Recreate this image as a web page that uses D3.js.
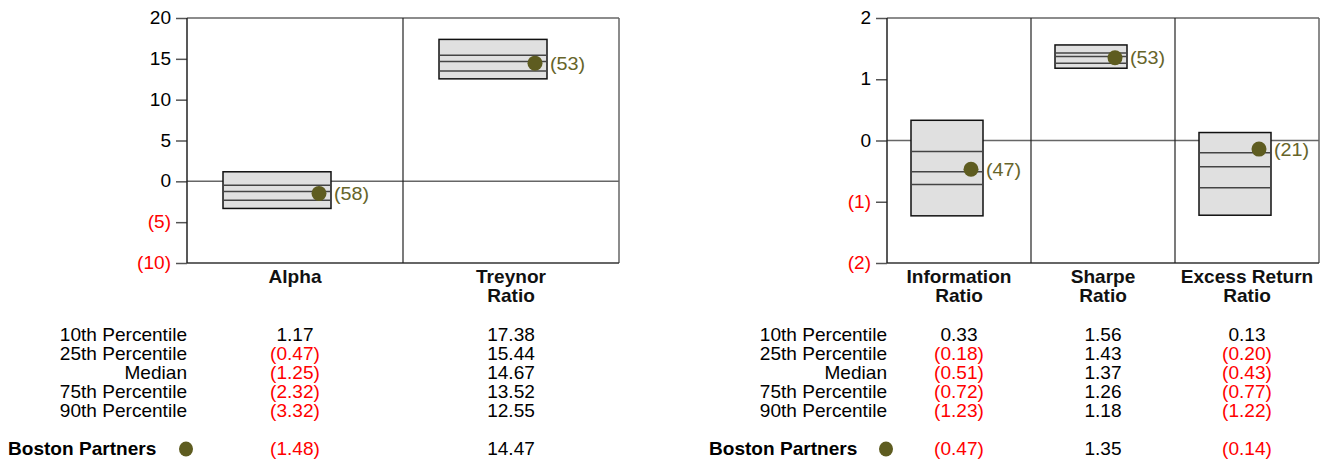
<!DOCTYPE html>
<html><head><meta charset="utf-8">
<script src="https://cdn.jsdelivr.net/npm/d3@7"></script>
<style>
body{margin:0;background:#fff;}
svg text{font-family:Arial,"Liberation Sans",sans-serif;}
</style></head>
<body><svg id="c" width="1323" height="459"></svg>
<script>
// ---- data ----
const leftCategories = [["Alpha"], ["Treynor", "Ratio"]];
const leftP10 = [1.17, 17.38];
const leftP25 = [-0.47, 15.44];
const leftMedian = [-1.25, 14.67];
const leftP75 = [-2.32, 13.52];
const leftP90 = [-3.32, 12.55];
const leftManager = [-1.48, 14.47];
const leftRank = [58, 53];
const leftTicks = [-10, -5, 0, 5, 10, 15, 20];

const rightCategories = [["Information", "Ratio"], ["Sharpe", "Ratio"], ["Excess Return", "Ratio"]];
const rightP10 = [0.33, 1.56, 0.13];
const rightP25 = [-0.18, 1.43, -0.20];
const rightMedian = [-0.51, 1.37, -0.43];
const rightP75 = [-0.72, 1.26, -0.77];
const rightP90 = [-1.23, 1.18, -1.22];
const rightManager = [-0.47, 1.35, -0.14];
const rightRank = [47, 53, 21];
const rightTicks = [-2, -1, 0, 1, 2];

const rowLabels = ["10th Percentile", "25th Percentile", "Median", "75th Percentile", "90th Percentile"];
const managerName = "Boston Partners";

// ---- style ----
const RED = "#ff0000", OLIVE = "#5e5c20", FS = 17.5, SX = 1.09;
const svg = d3.select("#c");
const fmt = v => v < 0 ? `(${Math.abs(v).toFixed(2)})` : v.toFixed(2);
const tickFmt = d => d < 0 ? `(${-d})` : `${d}`;

function txt(g, x, y, str, o = {}) {
  const t = g.append("text")
    .attr("transform", `translate(${x},${y}) scale(${o.sx || SX},1)`)
    .attr("font-size", o.fs || FS)
    .attr("text-anchor", o.anchor || "start")
    .attr("fill", o.fill || "#000");
  if (o.bold) t.attr("font-weight", "bold");
  if (o.dy) t.attr("dy", o.dy);
  t.text(str);
  return t;
}

function drawChart(o) {
  const g = svg.append("g");
  const top = 18, bottom = 263;
  const x = d3.scaleBand().domain(d3.range(o.cats.length)).range([o.x0, o.x1]).padding(0);
  const y = d3.scaleLinear().domain(o.domain).range([bottom, top]);
  const bw = x.bandwidth();

  // zero line
  g.append("line").attr("x1", o.x0).attr("x2", o.x1).attr("y1", y(0)).attr("y2", y(0))
    .attr("stroke", "#666").attr("stroke-width", 1.5);

  // axis
  const ax = g.append("g").attr("transform", `translate(${o.x0},0)`)
    .call(d3.axisLeft(y).tickValues(o.ticks).tickSize(11).tickPadding(5).tickFormat(tickFmt));
  ax.select(".domain").remove();
  ax.selectAll(".tick line").attr("stroke", "#555").attr("stroke-width", 1.5);
  ax.selectAll(".tick text").attr("font-size", FS).attr("font-family", "Arial, 'Liberation Sans', sans-serif")
    .attr("x", 0).attr("transform", `translate(-16,0) scale(${SX},1)`)
    .attr("fill", d => d < 0 ? RED : "#000");

  // frame
  g.append("line").attr("x1", o.x0).attr("x2", o.x1).attr("y1", top).attr("y2", top).attr("stroke", "#666").attr("stroke-width", 1.5);
  g.append("line").attr("x1", o.x1).attr("x2", o.x1).attr("y1", top).attr("y2", bottom).attr("stroke", "#666").attr("stroke-width", 1.5);
  g.append("line").attr("x1", o.x0).attr("x2", o.x1).attr("y1", bottom).attr("y2", bottom).attr("stroke", "#333").attr("stroke-width", 1.5);
  g.append("line").attr("x1", o.x0).attr("x2", o.x0).attr("y1", top).attr("y2", bottom).attr("stroke", "#222").attr("stroke-width", 1.5);
  d3.range(1, o.cats.length).forEach(i => {
    g.append("line").attr("x1", x(i)).attr("x2", x(i)).attr("y1", top).attr("y2", bottom).attr("stroke", "#222").attr("stroke-width", 1.2);
  });

  // boxes
  o.cats.forEach((c, i) => {
    const bx = x(i) + bw / 6, bwid = bw / 2;
    g.append("rect").attr("x", bx).attr("y", y(o.p10[i])).attr("width", bwid)
      .attr("height", y(o.p90[i]) - y(o.p10[i])).attr("fill", "#e0e0e0").attr("stroke", "#111").attr("stroke-width", 1.5);
    [o.p25[i], o.med[i], o.p75[i]].forEach(v => {
      g.append("line").attr("x1", bx).attr("x2", bx + bwid).attr("y1", y(v)).attr("y2", y(v))
        .attr("stroke", "#444").attr("stroke-width", 1.5);
    });
    const dx = bx + bwid - 12;
    g.append("circle").attr("cx", dx).attr("cy", y(o.mgr[i])).attr("r", 7.5).attr("fill", OLIVE);
    txt(g, dx + 15, y(o.mgr[i]), `(${o.rank[i]})`, {fs: 18.5, sx: 1.07, dy: "0.36em", fill: "#66642a"});

    // category label
    const cx = x(i) + bw / 2;
    c.forEach((line, k) => txt(g, cx, 283 + k * 18.5, line, {anchor: "middle", bold: true, fill: "#111"}));

    // table values
    const vals = [o.p10[i], o.p25[i], o.med[i], o.p75[i], o.p90[i]];
    vals.forEach((v, r) => txt(g, cx, 341 + r * 19, fmt(v), {anchor: "middle", fill: v < 0 ? RED : "#000"}));
    txt(g, cx, 455, fmt(o.mgr[i]), {anchor: "middle", fill: o.mgr[i] < 0 ? RED : "#000"});
  });

  // row labels
  rowLabels.forEach((t, r) => txt(g, o.x0, 341 + r * 19, t, {anchor: "end"}));
  txt(g, o.legendX, 455, managerName, {bold: true});
  g.append("ellipse").attr("cx", o.x0 - 1).attr("cy", 449).attr("rx", 7).attr("ry", 7.5).attr("fill", OLIVE);
}

drawChart({cats: leftCategories, p10: leftP10, p25: leftP25, med: leftMedian, p75: leftP75, p90: leftP90,
  mgr: leftManager, rank: leftRank, ticks: leftTicks, domain: [-10, 20], x0: 187, x1: 619, legendX: 8});
drawChart({cats: rightCategories, p10: rightP10, p25: rightP25, med: rightMedian, p75: rightP75, p90: rightP90,
  mgr: rightManager, rank: rightRank, ticks: rightTicks, domain: [-2, 2], x0: 887, x1: 1319, legendX: 709});
</script></body></html>
